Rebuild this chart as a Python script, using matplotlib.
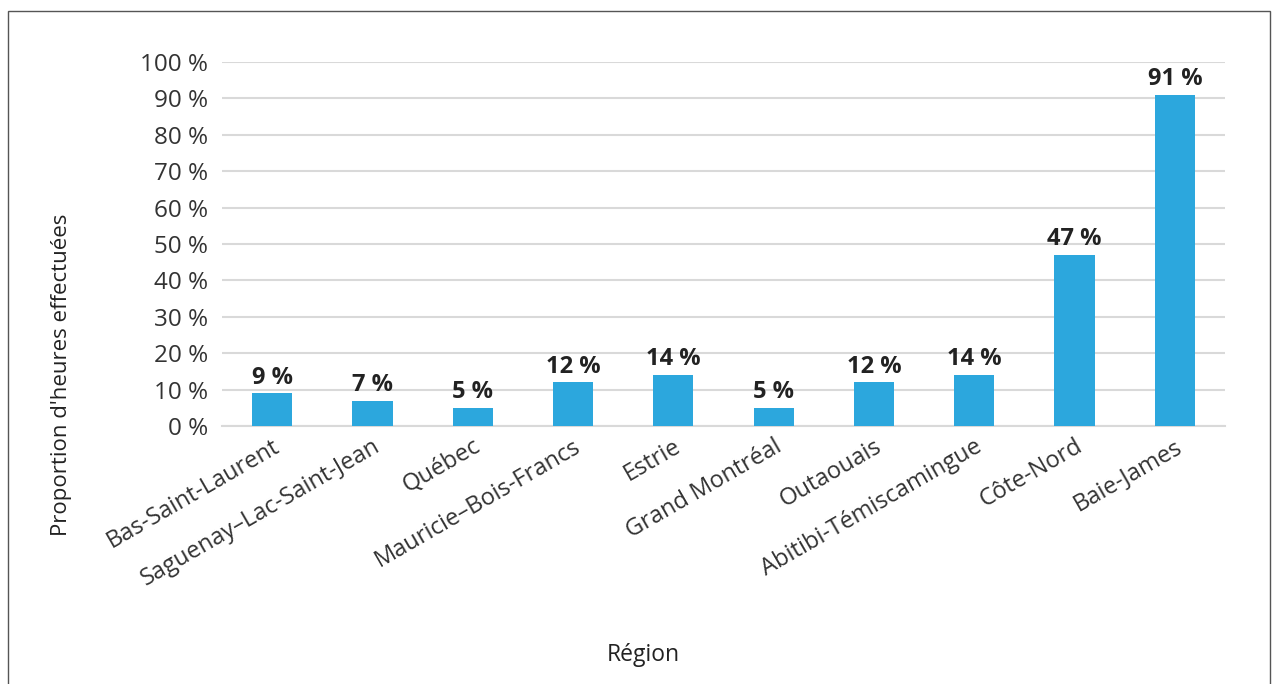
import matplotlib.pyplot as plt
from matplotlib.patches import Rectangle

# Data
regions = ["Bas-Saint-Laurent", "Saguenay\u2013Lac-Saint-Jean", "Québec",
           "Mauricie\u2013Bois-Francs", "Estrie", "Grand Montréal", "Outaouais",
           "Abitibi-Témiscamingue", "Côte-Nord", "Baie-James"]
proportions = [9, 7, 5, 12, 14, 5, 12, 14, 47, 91]
yticks = [0, 10, 20, 30, 40, 50, 60, 70, 80, 90, 100]

plt.rcParams['font.family'] = ['Open Sans', 'DejaVu Sans']

fig = plt.figure(figsize=(12.73, 6.84), dpi=100)
ax = fig.add_axes([0.1744, 0.3772, 0.7879, 0.5322])

x = range(len(regions))
bars = ax.bar(x, proportions, width=0.4, color='#2CA7DD', zorder=3)

for b, v in zip(bars, proportions):
    ax.text(b.get_x() + b.get_width() / 2, v + 1.0, f"{v} %", ha='center', va='bottom',
            fontsize=17, fontweight='bold', color='#222222')

ax.set_xlim(-0.5, len(regions) - 0.5)
ax.set_ylim(0, 100)
ax.set_yticks(yticks)
ax.set_yticklabels([f"{t} %" for t in yticks], fontsize=17.5, color='#333333')
ax.set_xticks(list(x))
ax.set_xticklabels(regions, rotation=30, ha='right', rotation_mode='anchor',
                   fontsize=17, color='#333333')
ax.tick_params(axis='both', length=0)
ax.tick_params(axis='y', pad=10)
ax.tick_params(axis='x', pad=6)

ax.grid(axis='y', color='#d9d9d9', linewidth=1.5, zorder=0)
for s in ['top', 'right', 'left']:
    ax.spines[s].set_visible(False)
ax.spines['bottom'].set_color('#d9d9d9')
ax.spines['bottom'].set_linewidth(1.5)

# axis titles
fig.text(62 / 1273, 0.452, "Proportion d'heures effectuées", rotation=90,
         ha='center', va='center', fontsize=16, color='#222222')
fig.text(0.505, 0.042, "Région", ha='center', va='center', fontsize=16.5, color='#222222')

# Outer frame around the chart (bottom edge cut off in the reference)
fig.patches.append(Rectangle((8 / 1273, -0.05), 1262 / 1273, 1.05 - 11 / 684,
                             transform=fig.transFigure, fill=False,
                             edgecolor='#555555', linewidth=1))

fig.savefig("out.png", dpi=100)
